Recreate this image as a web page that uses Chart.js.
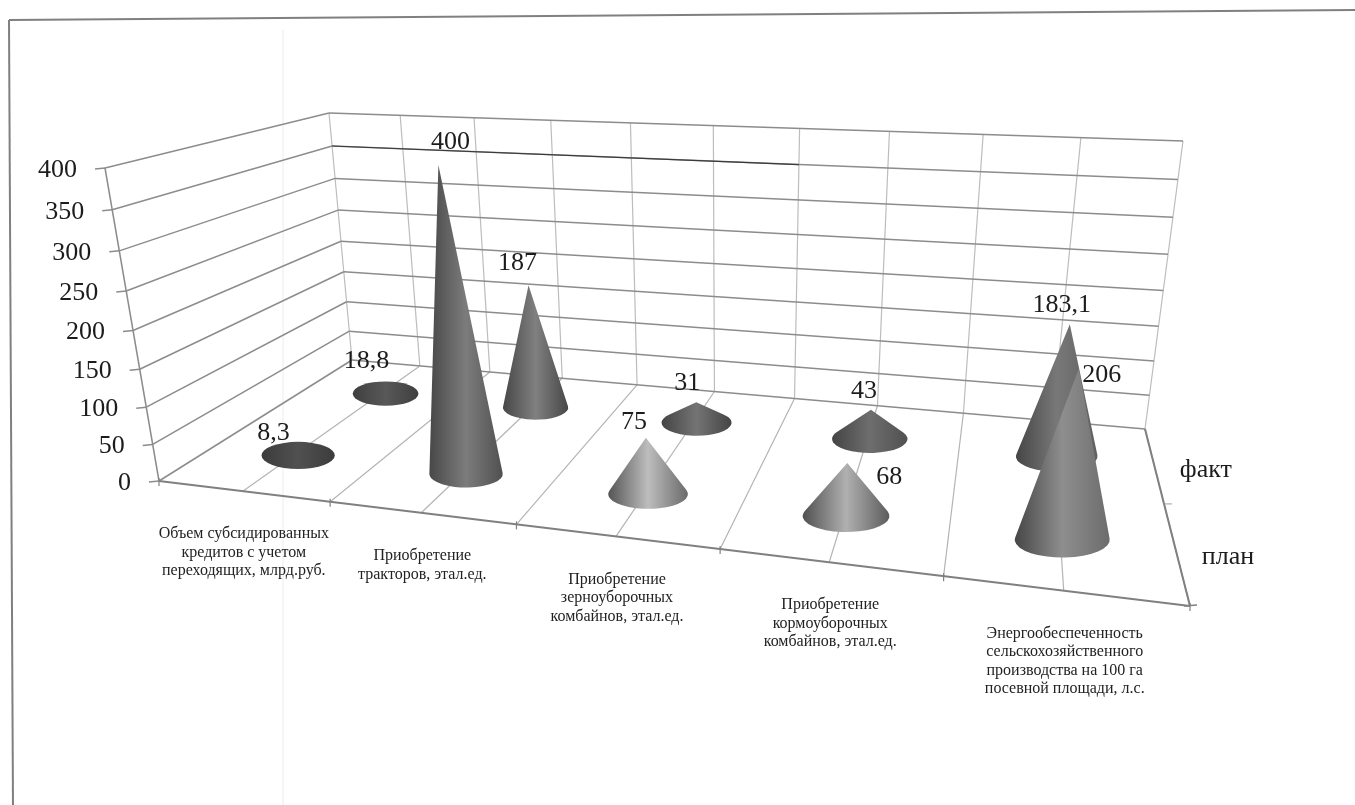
<!DOCTYPE html>
<html>
<head>
<meta charset="utf-8">
<title>Конусная диаграмма</title>
<script src="https://cdn.jsdelivr.net/npm/chart.js@4"></script>
<style>
  body { margin: 0; background: #fff; overflow: hidden; }
  canvas { display: block; }
</style>
</head>
<body>
<canvas id="chart" width="1355" height="805"></canvas>
<script>
// Data
const categories = [
  ["Объем субсидированных", "кредитов с учетом", "переходящих, млрд.руб."],
  ["Приобретение", "тракторов, этал.ед."],
  ["Приобретение", "зерноуборочных", "комбайнов, этал.ед."],
  ["Приобретение", "кормоуборочных", "комбайнов, этал.ед."],
  ["Энергообеспеченность", "сельскохозяйственного", "производства на 100 га", "посевной площади, л.с."],
];
const seriesNames = ["план", "факт"];
const planValues = [8.3, 400, 75, 68, 206];
const factValues = [18.8, 187, 31, 43, 183.1];
const yTicks = [0, 50, 100, 150, 200, 250, 300, 350, 400];

// Corners of the 3D box on the page: front-left, front-right, back-right, back-left
const floorCorners = [[159, 481], [1190, 606], [1145, 429], [352, 360]];
const topCorners = [[105, 168], [1245, 225], [1183, 141], [329, 113]];

// Value label offsets from the cone tip, the original had them placed by hand
const planLabelOffsets = [[-24, -16], [12, -23], [-12, -16], [42, 14], [23, 7]];
const factLabelOffsets = [[-18, -21], [-11, -22], [-9, -19], [-7, -19], [-8, -19]];
// Cone shading: left edge, middle, right edge
const planShades = [["#3c3c3c", "#505050", "#3c3c3c"], ["#484848", "#7c7c7c", "#505050"], ["#555555", "#bdbdbd", "#6a6a6a"], ["#505050", "#b0b0b0", "#5c5c5c"], ["#464646", "#8e8e8e", "#6c6c6c"]];
const factShades = [["#3f3f3f", "#585858", "#3f3f3f"], ["#474747", "#808080", "#474747"], ["#444444", "#747474", "#444444"], ["#444444", "#6e6e6e", "#505050"], ["#464646", "#787878", "#606060"]];

const serif = '"Liberation Serif", serif';

function makeHomography(q) {
  const [[x0, y0], [x1, y1], [x2, y2], [x3, y3]] = q;
  const dx1 = x1 - x2, dx2 = x3 - x2, sx = x0 - x1 + x2 - x3;
  const dy1 = y1 - y2, dy2 = y3 - y2, sy = y0 - y1 + y2 - y3;
  const det = dx1 * dy2 - dx2 * dy1;
  const g = (sx * dy2 - dx2 * sy) / det;
  const h = (dx1 * sy - sx * dy1) / det;
  const a = x1 - x0 + g * x1, b = x3 - x0 + h * x3;
  const d = y1 - y0 + g * y1, e = y3 - y0 + h * y3;
  return (u, v) => {
    const w = g * u + h * v + 1;
    return [(a * u + b * v + x0) / w, (d * u + e * v + y0) / w];
  };
}
const floorMap = makeHomography(floorCorners);
const topMap = makeHomography(topCorners);

// u along the categories, v into the depth, t up the value axis (all 0..1)
function project(u, v, t) {
  const f = floorMap(u, v), p = topMap(u, v);
  const s = t / (1.08 - 0.08 * t);
  return [f[0] + (p[0] - f[0]) * s, f[1] + (p[1] - f[1]) * s];
}

function line(ctx, a, b, color, width) {
  ctx.strokeStyle = color;
  ctx.lineWidth = width;
  ctx.beginPath();
  ctx.moveTo(a[0], a[1]);
  ctx.lineTo(b[0], b[1]);
  ctx.stroke();
}

function drawCone(ctx, base, tip, rx, shades) {
  const ry = rx * 0.37;
  const px = (tip[0] - base[0]) / rx, py = (tip[1] - base[1]) / ry;
  const len = Math.hypot(px, py);
  const grad = ctx.createLinearGradient(base[0] - rx, 0, base[0] + rx, 0);
  grad.addColorStop(0, shades[0]);
  grad.addColorStop(0.5, shades[1]);
  grad.addColorStop(1, shades[2]);
  ctx.fillStyle = grad;
  ctx.beginPath();
  if (len <= 1) {
    ctx.ellipse(base[0], base[1], rx, ry, 0, 0, Math.PI * 2);
  } else {
    const th = Math.atan2(py, px), phi = Math.acos(1 / len);
    ctx.ellipse(base[0], base[1], rx, ry, 0, th + phi, th - phi + Math.PI * 2);
    ctx.lineTo(tip[0], tip[1]);
  }
  ctx.closePath();
  ctx.fill();
}

const box3d = {
  id: "box3d",
  beforeDatasetsDraw(chart) {
    const ctx = chart.ctx, y = chart.scales.y, area = chart.chartArea;
    ctx.save();
    // page frame and the fold of the scan
    line(ctx, [9, 20], [1355, 10], "#808080", 2);
    line(ctx, [9, 20], [13, 805], "#808080", 2);
    line(ctx, [283, 30], [283, 805], "#ececec", 1);

    // walls and floor
    for (let i = 0; i <= 10; i++) {
      line(ctx, project(i / 10, 1, 0), project(i / 10, 1, 1), "#bdbdbd", 1.2);
      if (i > 0) line(ctx, project(i / 10, 0, 0), project(i / 10, 1, 0), "#b4b4b4", 1.2);
    }
    yTicks.forEach((tick) => {
      const t = (area.bottom - y.getPixelForValue(tick)) / area.height;
      line(ctx, project(0, 0, t), project(0, 1, t), "#8c8c8c", 1.5);
      line(ctx, project(0, 1, t), project(1, 1, t), "#8c8c8c", 1.5);
      const p = project(0, 0, t);
      line(ctx, p, [p[0] - 10, p[1] + 1], "#8c8c8c", 1.5);
      ctx.fillStyle = "#1c1c1c";
      ctx.font = "26px " + serif;
      ctx.textAlign = "right";
      ctx.textBaseline = "middle";
      ctx.fillText(String(tick), p[0] - 28, p[1] + 2);
    });
    line(ctx, project(0, 1, 0.875), project(0.6, 1, 0.875), "#3a3a3a", 1.2);

    // axes
    line(ctx, project(0, 0, 0), project(0, 0, 1), "#8c8c8c", 1.5);
    line(ctx, project(0, 0, 0), project(1, 0, 0), "#808080", 2);
    line(ctx, project(1, 1, 0), project(1, 0, 0), "#808080", 2);
    for (let i = 0; i <= 5; i++) {
      const p = project(i / 5, 0, 0);
      line(ctx, [p[0], p[1] - 3], [p[0], p[1] + 5], "#808080", 1.2);
    }
    const end = project(1, 0, 0);
    line(ctx, [end[0] - 6, end[1]], [end[0] + 7, end[1] - 1], "#808080", 1.5);
    const mid = project(1, 0.5, 0);
    line(ctx, mid, [mid[0] + 8, mid[1]], "#a0a0a0", 1);
    ctx.restore();
  },
  afterDatasetsDraw(chart) {
    const ctx = chart.ctx, area = chart.chartArea, depth = chart.scales.depth;
    const rows = [
      { index: 1, shades: factShades, offsets: factLabelOffsets, values: factValues },
      { index: 0, shades: planShades, offsets: planLabelOffsets, values: planValues },
    ];
    ctx.save();
    rows.forEach((row) => {
      const v = (depth.getPixelForValue(row.index) - area.left) / area.width;
      row.v = v;
      row.tips = [];
      chart.getDatasetMeta(row.index).data.forEach((bar, i) => {
        const u = (bar.x - area.left) / area.width;
        const t = (area.bottom - bar.y) / area.height;
        const base = project(u, v, 0), tip = project(u, v, t);
        base[0] += 2; base[1] += 2;
        tip[0] += 2; tip[1] += 2;
        const rx = Math.abs(floorMap(u + 0.042, v)[0] - floorMap(u - 0.042, v)[0]) / 2;
        // the nearly flat cones read a little wider in the original
        drawCone(ctx, base, tip, t < 0.05 ? rx * 1.08 : rx, row.shades[i]);
        row.tips[i] = tip;
      });
    });

    ctx.fillStyle = "#1c1c1c";
    ctx.textAlign = "center";
    ctx.textBaseline = "middle";
    ctx.font = "26px " + serif;
    rows.forEach((row) => {
      row.values.forEach((value, i) => {
        const label = String(value).replace(".", ",");
        ctx.fillText(label, row.tips[i][0] + row.offsets[i][0], row.tips[i][1] + row.offsets[i][1]);
      });
      const p = project(1, row.v, 0);
      ctx.fillText(seriesNames[row.index], p[0] + 52, p[1] + 6);
    });

    // category labels under the front edge
    ctx.fillStyle = "#222222";
    ctx.font = "16px " + serif;
    categories.forEach((lines, i) => {
      const u = (chart.scales.x.getPixelForValue(i) - area.left) / area.width;
      const p = project(u, 0, 0);
      lines.forEach((text, k) => ctx.fillText(text, p[0] + 1, p[1] + 43 + k * 18.5));
    });
    ctx.restore();
  },
};

new Chart(document.getElementById("chart"), {
  type: "bar",
  data: {
    labels: categories,
    datasets: [
      { label: seriesNames[0], data: planValues, backgroundColor: "transparent", grouped: false },
      { label: seriesNames[1], data: factValues, backgroundColor: "transparent", grouped: false },
    ],
  },
  options: {
    responsive: false,
    animation: false,
    layout: { padding: 0 },
    plugins: { legend: { display: false }, tooltip: { enabled: false } },
    scales: {
      x: { display: false, offset: true },
      depth: { type: "category", axis: "x", labels: seriesNames, offset: true, display: false },
      y: { display: false, min: 0, max: 400, ticks: { stepSize: 50 } },
    },
  },
  plugins: [box3d],
});
</script>
</body>
</html>
